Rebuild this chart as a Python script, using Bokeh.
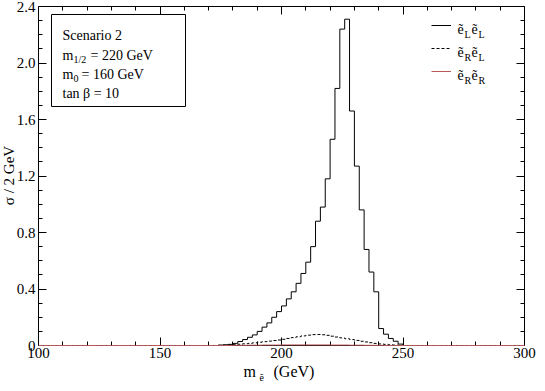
import numpy as np
from bokeh.plotting import figure
from bokeh.models import (FixedTicker, LinearAxis, Label, BoxAnnotation, Legend,
                          LegendItem, Range1d, BasicTickFormatter)
from bokeh.embed import file_html
from bokeh.resources import INLINE

# ---------------- data (2 GeV bins, left edges 170 ... 250) ----------------
first_bin = 170
bin_width = 2
ee_LL = [0.0, 0.0, 0.003, 0.005, 0.008, 0.015, 0.028, 0.042, 0.058, 0.075,
         0.10, 0.13, 0.16, 0.20, 0.24, 0.28, 0.33, 0.38, 0.44, 0.51,
         0.59, 0.70, 0.88, 0.98, 1.18, 1.46, 1.82, 2.24, 2.31, 1.66,
         1.27, 0.96, 0.68, 0.52, 0.38, 0.12, 0.08, 0.05, 0.03, 0.01, 0.0]
ee_RL = [0.0, 0.0, 0.001, 0.002, 0.004, 0.006, 0.009, 0.012, 0.015, 0.019,
         0.023, 0.027, 0.031, 0.035, 0.039, 0.044, 0.050, 0.056, 0.062, 0.068,
         0.073, 0.077, 0.078, 0.076, 0.072, 0.066, 0.060, 0.054, 0.048, 0.042,
         0.036, 0.030, 0.025, 0.020, 0.015, 0.011, 0.008, 0.005, 0.003, 0.001, 0.0]
ee_RR = [0.0, 0.0, 0.0, 0.0, 0.0, 0.001, 0.001, 0.001, 0.002, 0.002,
         0.002, 0.003, 0.003, 0.003, 0.003, 0.004, 0.004, 0.004, 0.004, 0.004,
         0.004, 0.004, 0.004, 0.004, 0.004, 0.003, 0.003, 0.003, 0.003, 0.002,
         0.002, 0.002, 0.001, 0.001, 0.001, 0.001, 0.0, 0.0, 0.0, 0.0, 0.0]
x_ticks = [100, 150, 200, 250, 300]
x_minor = [110, 120, 130, 140, 160, 170, 180, 190, 210, 220, 230, 240, 260, 270, 280, 290]
y_ticks = [0.0, 0.4, 0.8, 1.2, 1.6, 2.0, 2.4]
y_tick_labels = ["0", "0.4", "0.8", "1.2", "1.6", "2.0", "2.4"]
y_minor = [0.1, 0.2, 0.3, 0.5, 0.6, 0.7, 0.9, 1.0, 1.1, 1.3, 1.4, 1.5,
           1.7, 1.8, 1.9, 2.1, 2.2, 2.3]
X_MIN, X_MAX = 100, 300
Y_MIN, Y_MAX = 0.0, 2.4

# full histogram grid 100..300
edges = np.arange(X_MIN, X_MAX + bin_width, bin_width)
def full(vals):
    arr = np.zeros(len(edges))
    i0 = (first_bin - X_MIN) // bin_width
    arr[i0:i0 + len(vals)] = vals
    return arr

# ---------------- layout geometry (page px; canvas starts at page 8,8) ----------------
W, H = 537, 383
FRAME_L, FRAME_R, FRAME_T, FRAME_B = 46, 532, 14, 353
SX = (FRAME_R - FRAME_L) / (X_MAX - X_MIN)
SY = (FRAME_B - FRAME_T) / (Y_MAX - Y_MIN)
def xd(px):
    return X_MIN + (px - FRAME_L) / SX
def yd(py):
    return Y_MIN + (FRAME_B - py) / SY

SERIF = "Liberation Serif"

p = figure(width=W, height=H, output_backend="svg", toolbar_location=None,
           x_range=Range1d(xd(8), xd(8 + W)), y_range=Range1d(yd(8 + H), yd(8)),
           min_border=0)
p.grid.visible = False
p.outline_line_color = None
p.background_fill_color = "white"
p.border_fill_color = "white"

def style_axis(ax, labels=True):
    ax.major_tick_in = 8
    ax.major_tick_out = 0
    ax.minor_tick_in = 4
    ax.minor_tick_out = 0
    ax.axis_line_color = "black"
    ax.major_tick_line_color = "black"
    ax.minor_tick_line_color = "black"
    if labels:
        ax.major_label_text_font = SERIF
        ax.major_label_text_font_size = "15px"
        ax.major_label_text_color = "black"
    else:
        ax.major_label_text_font_size = "1px"
        ax.major_label_text_color = None
        ax.major_label_standoff = 0

xb = p.xaxis[0]
xb.ticker = FixedTicker(ticks=x_ticks, minor_ticks=x_minor)
xb.fixed_location = Y_MIN
xb.bounds = (X_MIN, X_MAX)
style_axis(xb)
xb.major_label_standoff = 2

yl = p.yaxis[0]
yl.ticker = FixedTicker(ticks=y_ticks, minor_ticks=y_minor)
yl.formatter = BasicTickFormatter(precision=1)
yl.major_label_overrides = {t: s for t, s in zip(y_ticks, y_tick_labels)}
yl.fixed_location = X_MIN
yl.bounds = (Y_MIN, Y_MAX)
style_axis(yl)
yl.major_label_standoff = 3

xt = LinearAxis(ticker=FixedTicker(ticks=x_ticks, minor_ticks=x_minor),
                fixed_location=Y_MAX, bounds=(X_MIN, X_MAX))
style_axis(xt, labels=False)
p.add_layout(xt, "above")
yr = LinearAxis(ticker=FixedTicker(ticks=y_ticks, minor_ticks=y_minor),
                fixed_location=X_MAX, bounds=(Y_MIN, Y_MAX))
style_axis(yr, labels=False)
p.add_layout(yr, "right")

# ---------------- histograms ----------------
r_ll = p.step(edges, full(ee_LL), mode="after", line_color="black", line_width=1)
r_rl = p.step(edges, full(ee_RL), mode="after", line_color="black", line_width=1,
              line_dash="3 2")
r_rr = p.step(edges, full(ee_RR), mode="after", line_color="#b85858", line_width=1,
              level="overlay")

legend = Legend(items=[LegendItem(label=" ", renderers=[r_ll]),
                       LegendItem(label=" ", renderers=[r_rl]),
                       LegendItem(label=" ", renderers=[r_rr])],
                location=(439 - 8, 8 + H - 89), padding=0, spacing=3,
                glyph_width=20, glyph_height=20, label_height=20, label_width=10,
                label_standoff=4, background_fill_alpha=0, border_line_alpha=0,
                label_text_font_size="8px", label_text_color=None, margin=0)
p.add_layout(legend)

def txt(px, py, s, size="14px", **kw):
    p.add_layout(Label(x=xd(px), y=yd(py), text=s, text_font=SERIF,
                       text_font_size=size, text_color="black",
                       text_baseline=kw.pop("baseline", "alphabetic"),
                       text_align=kw.pop("align", "left"), **kw))

# legend texts
for row_y, (a, b) in zip([33, 56, 79], [("L", "L"), ("R", "L"), ("R", "R")]):
    txt(465, row_y + 4, "ẽ")
    txt(472, row_y + 9, a, size="10px")
    txt(479, row_y + 4, "ẽ")
    txt(486, row_y + 9, b, size="10px")

# scenario box
p.add_layout(BoxAnnotation(left=xd(59), right=xd(193), top=yd(22), bottom=yd(114),
                           fill_color="white", fill_alpha=1.0,
                           line_color="black", line_width=1, line_alpha=1.0))
txt(70, 43, "Scenario 2")
txt(70, 63, "m")
txt(81, 67, "1/2", size="10px")
txt(98, 63, "= 220 GeV")
txt(70, 82, "m")
txt(81, 86, "0", size="10px")
txt(89, 82, "= 160 GeV")
txt(70, 101, "tan β = 10")

# axis titles
txt(251, 379, "m", size="16px")
txt(267, 385, "ẽ", size="10px")
txt(281, 379, "(GeV)", size="16px")
txt(16, 183, "σ / 2 GeV", size="15px", angle=np.pi / 2, align="center", baseline="middle")

open("out.html", "w").write(file_html(p, INLINE))
